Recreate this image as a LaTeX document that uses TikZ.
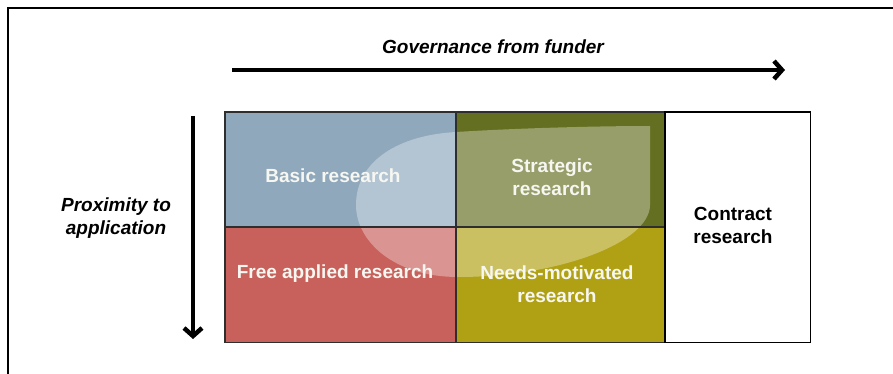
\documentclass[tikz,border=0pt]{standalone}
\usepackage{fontspec}
\setmainfont{Liberation Sans}
\usetikzlibrary{arrows.meta}
\definecolor{basicblue}{HTML}{8FA8BC}
\definecolor{freered}{HTML}{C8605B}
\definecolor{stratolive}{HTML}{646F21}
\definecolor{needsyellow}{HTML}{B0A114}
\definecolor{gridline}{HTML}{2E2E2E}
\definecolor{celltext}{HTML}{F7F7F2}
\begin{document}
\begin{tikzpicture}[x=1pt,y=-1pt,
  cellfill/.style={rectangle,inner sep=0pt,draw=none,anchor=north west},
  cellborder/.style={draw=gridline,line width=1.3pt},
  celllabel/.style={text=celltext,font=\bfseries\fontsize{19}{23}\selectfont,align=center,inner sep=0pt},
  axislabel/.style={font=\bfseries\itshape\fontsize{19}{23}\selectfont,align=center,inner sep=0pt},
  bigarrow/.style={line width=4.8pt,-{Straight Barb[length=8pt,width=18pt,line width=4.5pt]}},
  frameline/.style={line width=1.4pt,black}]
\useasboundingbox (0,0) rectangle (893,374);

% outer frame (top and left edges only)
\coordinate (fr0) at (8,374);
\coordinate (fr1) at (8,8);
\coordinate (fr2) at (893,8);
\draw[frameline] (fr0) -- (fr1) -- (fr2);

% axis arrows
\coordinate (g0) at (232,70);
\coordinate (g1) at (785,70);
\draw[bigarrow] (g0) -- (g1);
\coordinate (p0) at (193,116);
\coordinate (p1) at (193,339);
\draw[bigarrow] (p0) -- (p1);

% quadrant fills
\node[cellfill,fill=basicblue,minimum width=231pt,minimum height=115pt] (basic) at (225,112) {};
\node[cellfill,fill=freered,minimum width=231pt,minimum height=115pt] (free) at (225,227) {};
\node[cellfill,fill=stratolive,minimum width=209pt,minimum height=115pt] (strat) at (456,112) {};
\node[cellfill,fill=needsyellow,minimum width=209pt,minimum height=115pt] (needs) at (456,227) {};
\node[cellfill,fill=white,minimum width=145pt,minimum height=230pt] (contract) at (665,112) {};

% translucent highlight over the four quadrants
\fill[white,opacity=0.33]
  (650,126) -- (650,205)
  .. controls (650,242) and (560,277) .. (458,277)
  .. controls (395,277) and (356,242) .. (356,205)
  .. controls (356,160) and (400,135) .. (456,132)
  .. controls (520,128) and (600,126) .. (650,126) -- cycle;

% cell borders
\draw[cellborder] (basic.north west) rectangle (basic.south east);
\draw[cellborder] (free.north west) rectangle (free.south east);
\draw[cellborder] (strat.north west) rectangle (strat.south east);
\draw[cellborder] (needs.north west) rectangle (needs.south east);
\draw[line width=1.5pt,black] (contract.north west) rectangle (contract.south east);

% labels
\node[celllabel] (basicL) at (333,176) {Basic research};
\node[celllabel] (freeL) at (335,274) {Free applied research};
\node[celllabel] (stratL) at (552,177) {Strategic\\research};
\node[celllabel] (needsL) at (557,284) {Needs-motivated\\research};
\node[celllabel,text=black] (contractL) at (733,225) {Contract\\research};
\node[axislabel] (govL) at (493,47) {Governance from funder};
\node[axislabel] (proxL) at (116,218) {Proximity to\\application};
\end{tikzpicture}
\end{document}
